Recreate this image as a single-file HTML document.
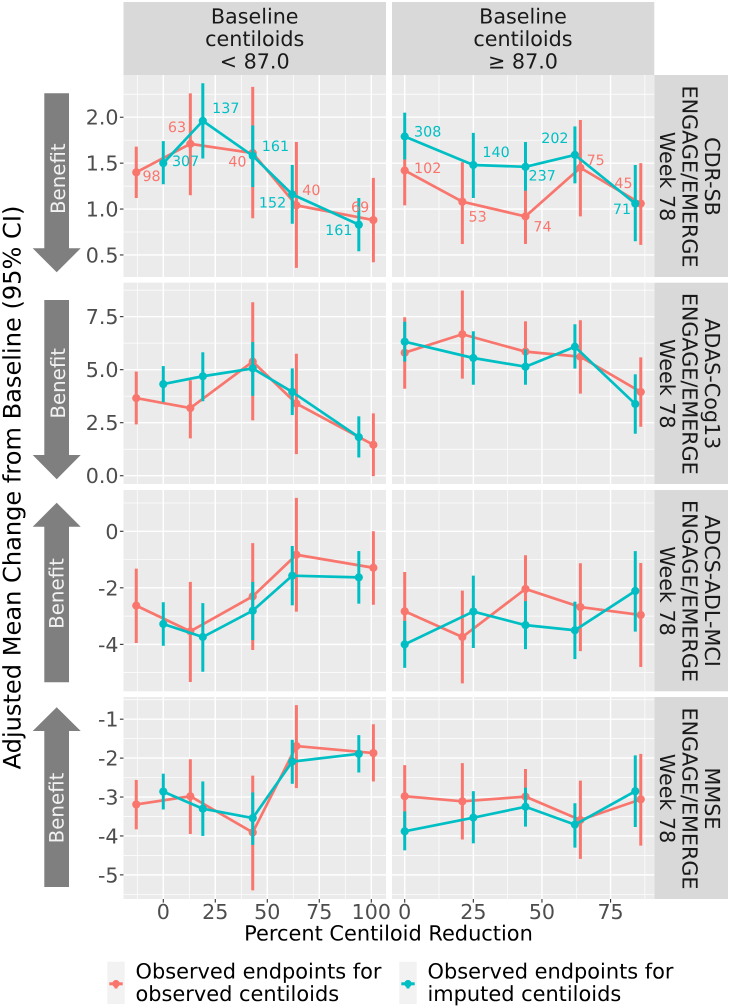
<!DOCTYPE html>
<html lang="en">
<head>
<meta charset="utf-8">
<title>Adjusted Mean Change from Baseline by Percent Centiloid Reduction</title>
<style>
html,body{margin:0;padding:0;background:#fff;}
svg{display:block;font-family:"DejaVu Sans","Liberation Sans",sans-serif;text-rendering:geometricPrecision;}
</style>
</head>
<body>
<svg id="chart" xmlns="http://www.w3.org/2000/svg" width="730" height="1008" viewBox="0 0 730 1008">
  <rect x="0" y="0" width="730" height="1008" fill="#ffffff"/>

  <g>
    <rect x="123.5" y="2" width="262.5" height="73" fill="#D9D9D9"/>
    <text font-size="20.7" fill="#1A1A1A" text-anchor="middle"><tspan x="254.7" y="23.5">Baseline</tspan><tspan x="254.7" y="46">centiloids</tspan><tspan x="254.7" y="68.3">&lt; 87.0</tspan></text>
    <rect x="392" y="2" width="262.3" height="73" fill="#D9D9D9"/>
    <text font-size="20.7" fill="#1A1A1A" text-anchor="middle"><tspan x="523" y="23.5">Baseline</tspan><tspan x="523" y="46">centiloids</tspan><tspan x="523" y="68.3">≥ 87.0</tspan></text>
  </g>

  <g>
    <rect x="654.3" y="75" width="73.7" height="202" fill="#D9D9D9"/>
    <text font-size="20.7" fill="#1A1A1A" text-anchor="middle" transform="translate(0,176.5) rotate(90)"><tspan x="0" y="-705">CDR-SB</tspan><tspan x="0" y="-682.7">ENGAGE/EMERGE</tspan><tspan x="0" y="-660">Week 78</tspan></text>
    <rect x="654.3" y="282.7" width="73.7" height="201.3" fill="#D9D9D9"/>
    <text font-size="20.7" fill="#1A1A1A" text-anchor="middle" transform="translate(0,383.8) rotate(90)"><tspan x="0" y="-705">ADAS-Cog13</tspan><tspan x="0" y="-682.7">ENGAGE/EMERGE</tspan><tspan x="0" y="-660">Week 78</tspan></text>
    <rect x="654.3" y="490" width="73.7" height="201.3" fill="#D9D9D9"/>
    <text font-size="20.7" fill="#1A1A1A" text-anchor="middle" transform="translate(0,591) rotate(90)"><tspan x="0" y="-705">ADCS-ADL-MCI</tspan><tspan x="0" y="-682.7">ENGAGE/EMERGE</tspan><tspan x="0" y="-660">Week 78</tspan></text>
    <rect x="654.3" y="697" width="73.7" height="202" fill="#D9D9D9"/>
    <text font-size="20.7" fill="#1A1A1A" text-anchor="middle" transform="translate(0,798.5) rotate(90)"><tspan x="0" y="-705">MMSE</tspan><tspan x="0" y="-682.7">ENGAGE/EMERGE</tspan><tspan x="0" y="-660">Week 78</tspan></text>
  </g>

  <g id="panels"></g>

  <g>
    <polygon fill="#7F7F7F" points="44.3,93.3 69,93.3 69,248.3 80.7,248.3 56.7,272.3 32.7,248.3 44.3,248.3"/>
    <text font-size="19.8" fill="#F2F2F2" text-anchor="middle" transform="translate(65,178.7) rotate(-90)">Benefit</text>
    <polygon fill="#7F7F7F" points="44.3,300 69,300 69,455 80.7,455 56.7,479.3 32.7,455 44.3,455"/>
    <text font-size="19.8" fill="#F2F2F2" text-anchor="middle" transform="translate(65,383.3) rotate(-90)">Benefit</text>
    <polygon fill="#7F7F7F" points="56.7,502.7 80.7,526.7 69,526.7 69,682.3 44.3,682.3 44.3,526.7 32.7,526.7"/>
    <text font-size="19.8" fill="#F2F2F2" text-anchor="middle" transform="translate(63.5,593.5) rotate(-90)">Benefit</text>
    <polygon fill="#7F7F7F" points="56.7,707.3 80.7,731 69,731 69,887 44.3,887 44.3,731 32.7,731"/>
    <text font-size="19.8" fill="#F2F2F2" text-anchor="middle" transform="translate(63.5,808) rotate(-90)">Benefit</text>
  </g>

  <text font-size="24.1" fill="#000" text-anchor="middle" transform="translate(20.7,487.5) rotate(-90)">Adjusted Mean Change from Baseline (95% CI)</text>
  <text font-size="20.9" fill="#000" text-anchor="middle" x="388.5" y="940.7">Percent Centiloid Reduction</text>

  <g>
    <g>
      <rect x="107.3" y="961.7" width="17.4" height="42.3" fill="#F2F2F2"/>
      <line x1="109.3" x2="122.7" y1="983.8" y2="983.8" stroke="#F8766D" stroke-width="3"/>
      <line x1="116" x2="116" y1="980" y2="988.5" stroke="#F8766D" stroke-width="3"/>
      <circle cx="116" cy="983.8" r="3.7" fill="#F8766D"/>
      <text font-size="20.9" fill="#000"><tspan x="135.5" y="978.7">Observed endpoints for</tspan><tspan x="135.5" y="1001">observed centiloids</tspan></text>
    </g>
    <g>
      <rect x="399.3" y="961.7" width="17.4" height="42.3" fill="#F2F2F2"/>
      <line x1="401.3" x2="414.7" y1="983.8" y2="983.8" stroke="#00BFC4" stroke-width="3"/>
      <line x1="408" x2="408" y1="980" y2="988.5" stroke="#00BFC4" stroke-width="3"/>
      <circle cx="408" cy="983.8" r="3.7" fill="#00BFC4"/>
      <text font-size="20.9" fill="#000"><tspan x="427.5" y="978.7">Observed endpoints for</tspan><tspan x="427.5" y="1001">imputed centiloids</tspan></text>
    </g>
  </g>
</svg>

<script>
// ---- Percent centiloid reduction per group ----
const xLowObserved  = [-13, 13, 43, 64, 101];
const xLowImputed   = [0, 19, 43, 62, 94];
const xHighObserved = [0, 21, 44, 64, 86];
const xHighImputed  = [0, 25, 44, 62, 84];

// ---- Tick labels ----
const xTicksLow  = [0, 25, 50, 75, 100];
const xTicksHigh = [0, 25, 50, 75];
const yTicksCdr  = [0.5, 1.0, 1.5, 2.0];
const yLabelsCdr = ['0.5', '1.0', '1.5', '2.0'];
const yTicksAdas  = [0, 2.5, 5, 7.5];
const yLabelsAdas = ['0.0', '2.5', '5.0', '7.5'];
const yTicksAdcs  = [-4, -2, 0];
const yLabelsAdcs = ['-4', '-2', '0'];
const yTicksMmse  = [-5, -4, -3, -2, -1];
const yLabelsMmse = ['-5', '-4', '-3', '-2', '-1'];

// ---- CDR-SB ----
const cdrLowObsMean  = [1.40, 1.71, 1.61, 1.04, 0.88];
const cdrLowObsUpper = [1.68, 2.26, 2.33, 1.73, 1.34];
const cdrLowObsLower = [1.12, 1.15, 0.90, 0.36, 0.42];
const cdrLowObsN     = [98, 63, 40, 40, 69];
const cdrLowImpMean  = [1.50, 1.96, 1.58, 1.16, 0.83];
const cdrLowImpUpper = [1.74, 2.37, 1.91, 1.48, 1.12];
const cdrLowImpLower = [1.27, 1.55, 1.24, 0.84, 0.54];
const cdrLowImpN     = [307, 137, 161, 152, 161];
const cdrHighObsMean  = [1.42, 1.08, 0.92, 1.45, 1.06];
const cdrHighObsUpper = [1.80, 1.51, 1.23, 1.97, 1.50];
const cdrHighObsLower = [1.04, 0.62, 0.62, 0.92, 0.61];
const cdrHighObsN     = [102, 53, 74, 75, 45];
const cdrHighImpMean  = [1.79, 1.48, 1.46, 1.59, 1.06];
const cdrHighImpUpper = [2.05, 1.83, 1.73, 1.90, 1.48];
const cdrHighImpLower = [1.54, 1.12, 1.20, 1.28, 0.65];
const cdrHighImpN     = [308, 140, 237, 202, 71];

// ---- ADAS-Cog13 ----
const adasLowObsMean  = [3.66, 3.19, 5.38, 3.40, 1.46];
const adasLowObsUpper = [4.91, 4.50, 8.18, 5.75, 2.94];
const adasLowObsLower = [2.42, 1.76, 2.61, 1.02, -0.02];
const adasLowImpMean  = [4.32, 4.69, 5.06, 3.95, 1.82];
const adasLowImpUpper = [5.17, 5.82, 6.30, 5.06, 2.80];
const adasLowImpLower = [3.47, 3.51, 3.77, 2.86, 0.86];
const adasHighObsMean  = [5.80, 6.67, 5.85, 5.61, 3.95];
const adasHighObsUpper = [7.47, 8.73, 7.28, 7.33, 5.58];
const adasHighObsLower = [4.10, 4.58, 4.40, 3.87, 2.31];
const adasHighImpMean  = [6.32, 5.55, 5.14, 6.08, 3.38];
const adasHighImpUpper = [7.26, 6.81, 5.96, 7.14, 4.78];
const adasHighImpLower = [5.38, 4.29, 4.29, 5.05, 1.98];

// ---- ADCS-ADL-MCI ----
const adcsLowObsMean  = [-2.63, -3.54, -2.30, -0.83, -1.29];
const adcsLowObsUpper = [-1.32, -1.79, -0.42, 1.18, 0.00];
const adcsLowObsLower = [-3.95, -5.33, -4.20, -2.84, -2.60];
const adcsLowImpMean  = [-3.28, -3.74, -2.81, -1.57, -1.63];
const adcsLowImpUpper = [-2.51, -2.54, -1.79, -0.52, -0.70];
const adcsLowImpLower = [-4.05, -4.97, -3.85, -2.62, -2.56];
const adcsHighObsMean  = [-2.83, -3.74, -2.04, -2.68, -2.96];
const adcsHighObsUpper = [-1.44, -2.10, -0.85, -1.13, -1.12];
const adcsHighObsLower = [-4.20, -5.38, -3.30, -4.24, -4.80];
const adcsHighImpMean  = [-4.00, -2.84, -3.32, -3.50, -2.11];
const adcsHighImpUpper = [-3.17, -1.57, -2.47, -2.49, -0.70];
const adcsHighImpLower = [-4.83, -4.13, -4.17, -4.52, -3.55];

// ---- MMSE ----
const mmseLowObsMean  = [-3.19, -2.98, -3.91, -1.69, -1.87];
const mmseLowObsUpper = [-2.56, -2.03, -2.45, -0.64, -1.13];
const mmseLowObsLower = [-3.83, -3.95, -5.40, -2.77, -2.60];
const mmseLowImpMean  = [-2.86, -3.30, -3.54, -2.09, -1.89];
const mmseLowImpUpper = [-2.40, -2.60, -2.88, -1.53, -1.41];
const mmseLowImpLower = [-3.32, -4.00, -4.23, -2.66, -2.37];
const mmseHighObsMean  = [-2.98, -3.11, -2.99, -3.59, -3.06];
const mmseHighObsUpper = [-2.18, -2.13, -2.28, -2.58, -1.89];
const mmseHighObsLower = [-3.90, -4.09, -3.50, -4.59, -4.25];
const mmseHighImpMean  = [-3.88, -3.53, -3.25, -3.71, -2.85];
const mmseHighImpUpper = [-3.37, -2.85, -2.76, -3.16, -1.93];
const mmseHighImpLower = [-4.37, -4.19, -3.76, -4.30, -3.77];

// ---- Layout (not data) ----
const COLORS = { obs: '#F8766D', imp: '#00BFC4' };
const columnLayouts = [
  { key: 'low',  left: 123.5, right: 386,   min: -19.13, max: 107.07, ticks: xTicksLow },
  { key: 'high', left: 392,   right: 654.3, min: -4.63,  max: 90.93,  ticks: xTicksHigh }
];
const rowLayouts = [
  { key: 'cdr',  top: 75,    bottom: 277, min: 0.26,  max: 2.46,  ticks: yTicksCdr,  labels: yLabelsCdr },
  { key: 'adas', top: 282.7, bottom: 484, min: -0.39, max: 9.10,  ticks: yTicksAdas, labels: yLabelsAdas },
  { key: 'adcs', top: 490,   bottom: 691.3, min: -5.66, max: 1.46, ticks: yTicksAdcs, labels: yLabelsAdcs },
  { key: 'mmse', top: 697,   bottom: 899, min: -5.62, max: -0.43, ticks: yTicksMmse, labels: yLabelsMmse }
];
// Pixel nudges of the sample-size labels relative to their points (styling only)
const cdrLowObsNudge  = [[15.3,3.3],[-13.3,-17.3],[-15.3,8.3],[15,-15.7],[-13.3,-13.3]];
const cdrLowImpNudge  = [[22.3,-2.3],[23,-13],[22.7,-10],[-19.7,8],[-20,5]];
const cdrHighObsNudge = [[23,-2.7],[15.3,14.7],[17,9.7],[15.3,-7.7],[-17.3,-20.7]];
const cdrHighImpNudge = [[23,-5],[22.7,-13.3],[16.7,8.3],[-20,-17],[-13.3,5.3]];

const seriesTable = {
  'cdr-low': {
    obs: { x: xLowObserved, mean: cdrLowObsMean, upper: cdrLowObsUpper, lower: cdrLowObsLower, n: cdrLowObsN, nudge: cdrLowObsNudge },
    imp: { x: xLowImputed, mean: cdrLowImpMean, upper: cdrLowImpUpper, lower: cdrLowImpLower, n: cdrLowImpN, nudge: cdrLowImpNudge }
  },
  'cdr-high': {
    obs: { x: xHighObserved, mean: cdrHighObsMean, upper: cdrHighObsUpper, lower: cdrHighObsLower, n: cdrHighObsN, nudge: cdrHighObsNudge },
    imp: { x: xHighImputed, mean: cdrHighImpMean, upper: cdrHighImpUpper, lower: cdrHighImpLower, n: cdrHighImpN, nudge: cdrHighImpNudge }
  },
  'adas-low': {
    obs: { x: xLowObserved, mean: adasLowObsMean, upper: adasLowObsUpper, lower: adasLowObsLower },
    imp: { x: xLowImputed, mean: adasLowImpMean, upper: adasLowImpUpper, lower: adasLowImpLower }
  },
  'adas-high': {
    obs: { x: xHighObserved, mean: adasHighObsMean, upper: adasHighObsUpper, lower: adasHighObsLower },
    imp: { x: xHighImputed, mean: adasHighImpMean, upper: adasHighImpUpper, lower: adasHighImpLower }
  },
  'adcs-low': {
    obs: { x: xLowObserved, mean: adcsLowObsMean, upper: adcsLowObsUpper, lower: adcsLowObsLower },
    imp: { x: xLowImputed, mean: adcsLowImpMean, upper: adcsLowImpUpper, lower: adcsLowImpLower }
  },
  'adcs-high': {
    obs: { x: xHighObserved, mean: adcsHighObsMean, upper: adcsHighObsUpper, lower: adcsHighObsLower },
    imp: { x: xHighImputed, mean: adcsHighImpMean, upper: adcsHighImpUpper, lower: adcsHighImpLower }
  },
  'mmse-low': {
    obs: { x: xLowObserved, mean: mmseLowObsMean, upper: mmseLowObsUpper, lower: mmseLowObsLower },
    imp: { x: xLowImputed, mean: mmseLowImpMean, upper: mmseLowImpUpper, lower: mmseLowImpLower }
  },
  'mmse-high': {
    obs: { x: xHighObserved, mean: mmseHighObsMean, upper: mmseHighObsUpper, lower: mmseHighObsLower },
    imp: { x: xHighImputed, mean: mmseHighImpMean, upper: mmseHighImpUpper, lower: mmseHighImpLower }
  }
};

const SVG_NS = 'http://www.w3.org/2000/svg';
const root = document.getElementById('panels');

function add(parent, tag, attrs, text) {
  const el = document.createElementNS(SVG_NS, tag);
  Object.keys(attrs).forEach(function (k) { el.setAttribute(k, attrs[k]); });
  if (text !== undefined) el.textContent = text;
  parent.appendChild(el);
  return el;
}
function linear(d0, d1, r0, r1) {
  return function (v) { return r0 + (v - d0) / (d1 - d0) * (r1 - r0); };
}
function minorsOf(ticks, min, max) {
  const step = ticks[1] - ticks[0];
  const out = ticks.map(function (t) { return t + step / 2; });
  out.push(ticks[0] - step / 2);
  return out.filter(function (v) { return v > min && v < max; });
}

rowLayouts.forEach(function (row, rowIndex) {
  const yScale = linear(row.min, row.max, row.bottom, row.top);

  columnLayouts.forEach(function (col) {
    const xScale = linear(col.min, col.max, col.left, col.right);
    const id = row.key + '-' + col.key;
    const panel = add(root, 'g', {});
    
    

    const bg = add(panel, 'rect', { x: col.left, y: row.top, width: col.right - col.left, height: row.bottom - row.top, fill: '#EBEBEB' });
    
    

    minorsOf(row.ticks, row.min, row.max).forEach(function (v) {
      const g = add(panel, 'line', { x1: col.left, x2: col.right, y1: yScale(v), y2: yScale(v), stroke: '#fff', 'stroke-width': 0.7 });
      
      
    });
    minorsOf(col.ticks, col.min, col.max).forEach(function (v) {
      const g = add(panel, 'line', { y1: row.top, y2: row.bottom, x1: xScale(v), x2: xScale(v), stroke: '#fff', 'stroke-width': 0.7 });
      
      
    });
    row.ticks.forEach(function (v) {
      const g = add(panel, 'line', { x1: col.left, x2: col.right, y1: yScale(v), y2: yScale(v), stroke: '#fff', 'stroke-width': 1.4 });
      
      
    });
    col.ticks.forEach(function (v) {
      const g = add(panel, 'line', { y1: row.top, y2: row.bottom, x1: xScale(v), x2: xScale(v), stroke: '#fff', 'stroke-width': 1.4 });
      
      
    });

    const table = seriesTable[id];
    ['obs', 'imp'].forEach(function (s) {
      const d = table[s];
      const color = COLORS[s];
      const grp = add(panel, 'g', {});
      
      

      d.x.forEach(function (x, i) {
        const bar = add(grp, 'line', { x1: xScale(x), x2: xScale(x), y1: yScale(d.upper[i]), y2: yScale(d.lower[i]), stroke: color, 'stroke-width': 3 });
        
        
      });
      const pts = d.x.map(function (x, i) { return xScale(x).toFixed(2) + ',' + yScale(d.mean[i]).toFixed(2); }).join(' ');
      const line = add(grp, 'polyline', { points: pts, fill: 'none', stroke: color, 'stroke-width': 2.7, 'stroke-linejoin': 'round' });
      
      
      d.x.forEach(function (x, i) {
        const pt = add(grp, 'circle', { cx: xScale(x), cy: yScale(d.mean[i]), r: 4.1, fill: color });
        
        
      });
    });
    ['obs', 'imp'].forEach(function (s) {
      const d = table[s];
      if (!d.n) return;
      d.x.forEach(function (x, i) {
        const label = add(panel, 'text', {
          x: xScale(x) + d.nudge[i][0],
          y: yScale(d.mean[i]) + d.nudge[i][1] + 5.2,
          'font-size': 14.3,
          'text-anchor': 'middle',
          fill: COLORS[s]
        }, String(d.n[i]));
        
        
      });
    });

    if (rowIndex === rowLayouts.length - 1) {
      col.ticks.forEach(function (v) {
        const t = add(root, 'line', { x1: xScale(v), x2: xScale(v), y1: row.bottom, y2: row.bottom + 3.6, stroke: '#333', 'stroke-width': 1.1 });
        
        
        const lab = add(root, 'text', { x: xScale(v), y: 919, 'font-size': 20.6, 'text-anchor': 'middle', fill: '#4D4D4D' }, String(v));
        
        
      });
    }
  });

  row.ticks.forEach(function (v, i) {
    const t = add(root, 'line', { x1: 119.9, x2: 123.5, y1: yScale(v), y2: yScale(v), stroke: '#333', 'stroke-width': 1.1 });
    
    
    const lab = add(root, 'text', { x: 118.5, y: yScale(v) + 7.5, 'font-size': 20.6, 'text-anchor': 'end', fill: '#4D4D4D' }, row.labels[i]);
    
    
  });
});
</script>
</body>
</html>
